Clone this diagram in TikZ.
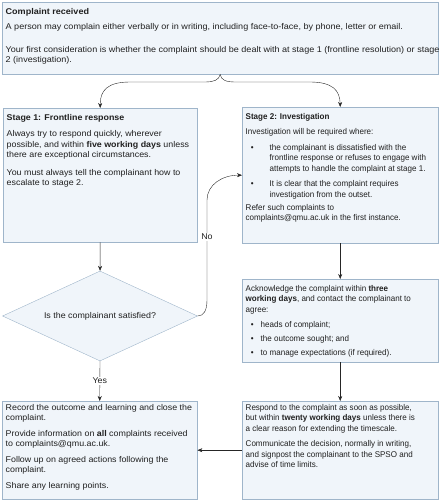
\documentclass[tikz,border=0pt]{standalone}
\usepackage{fontspec}
\setmainfont{Liberation Sans}[FakeStretch=0.96]
\newfontfamily\leftfont{Liberation Sans}[FakeStretch=1.06]
\newfontfamily\introfont{Liberation Sans}[FakeStretch=1.08]
\usetikzlibrary{shapes.geometric,arrows.meta}
\definecolor{qmufill}{HTML}{F0F5FA}
\definecolor{qmuline}{HTML}{9FB5CA}
\definecolor{qmuink}{HTML}{202020}
\newcommand{\qmutext}[1][\rmfamily]{#1\fontsize{8.4}{10.5}\selectfont\raggedright\setlength{\parskip}{5bp}}
\newcommand{\lefttext}{\qmutext[\leftfont]}
% lines break only where \\ says so
\newcommand{\widetext}[2][\rmfamily]{\leavevmode\rlap{\begin{minipage}[t]{460bp}\qmutext[#1]#2\end{minipage}}}
\newenvironment{qlist}[3]{\begin{list}{\textbullet}{%
  \setlength{\leftmargin}{#1}\setlength{\labelsep}{#2}%
  \setlength{\labelwidth}{4bp}\setlength{\itemindent}{0pt}%
  \setlength{\topsep}{0pt}\setlength{\partopsep}{0pt}%
  \setlength{\itemsep}{0pt}\setlength{\parsep}{#3}}}{\end{list}}

\begin{document}
\begin{tikzpicture}[x=1bp,y=-1bp]%
\tikzstyle{qbox} = [draw=qmuline, fill=qmufill, rectangle, anchor=north west,
    inner xsep=3.5bp, inner ysep=6bp, text=qmuink]
\tikzstyle{decision} = [draw=qmuline, fill=qmufill, diamond, inner sep=0pt,
    shape aspect=2.17, minimum width=195bp, minimum height=90bp,
    text=qmuink, font=\lefttext]
\tikzstyle{flow} = [draw=black!85, -{Stealth[length=5bp,width=4bp]}]
\tikzstyle{lbl} = [fill=white, inner sep=1bp, text=qmuink, font=\lefttext]
\useasboundingbox (0,0) rectangle (443,500);

\node [qbox] (intro) at (2,2) {%
    \begin{minipage}[t][60bp][t]{429bp}\widetext[\introfont]{%
      \textbf{Complaint received}

      A person may complain either verbally or in writing, including face-to-face, by phone, letter or email.

      \vspace{7bp}Your first consideration is whether the complaint should be dealt with at stage 1 (frontline resolution) or stage\\
      2 (investigation).}
    \end{minipage}
};
\node [qbox] (stageone) at (3,108) {%
    \begin{minipage}[t][122bp][t]{187bp}\widetext[\leftfont]{%
      \textbf{Stage 1: Frontline response}

      \vspace{1bp}Always try to respond quickly, wherever\\
      possible, and within \textbf{five working days} unless\\
      there are exceptional circumstances.

      \vspace{2bp}You must always tell the complainant how to\\
      escalate to stage 2.}
    \end{minipage}
};
\node [qbox] (stagetwo) at (242,107) {%
    \begin{minipage}[t][124bp][t]{189bp}\widetext{%
      \textbf{Stage 2: Investigation}

      Investigation will be required where:
      \begin{qlist}{24bp}{16bp}{5bp}
        \item the complainant is dissatisfied with the\\
        frontline response or refuses to engage with\\
        attempts to handle the complaint at stage 1.
        \item It is clear that the complaint requires\\
        investigation from the outset.
      \end{qlist}
      \vspace{-2bp}Refer such complaints to\\
      complaints@qmu.ac.uk in the first instance.}
    \end{minipage}
};
\node [qbox] (ack) at (242,279) {%
    \begin{minipage}[t][71bp][t]{189bp}\widetext{%
      Acknowledge the complaint within \textbf{three}\\
      \textbf{working days}, and contact the complainant to\\
      agree:
      \begin{qlist}{15bp}{7bp}{3.5bp}
        \item heads of complaint;
        \item the outcome sought; and
        \item to manage expectations (if required).
      \end{qlist}}
    \end{minipage}
};
\node [qbox, inner ysep=3bp] (respond) at (242,401) {%
    \begin{minipage}[t][92bp][t]{189bp}\widetext{%
      Respond to the complaint as soon as possible,\\
      but within \textbf{twenty working days} unless there is\\
      a clear reason for extending the timescale.

      Communicate the decision, normally in writing,\\
      and signpost the complainant to the SPSO and\\
      advise of time limits.}
    \end{minipage}
};
\node [qbox, inner ysep=3bp] (record) at (2,401) {%
    \begin{minipage}[t][92bp][t]{188bp}\widetext[\leftfont]{%
      Record the outcome and learning and close the\\
      complaint.

      Provide information on \textbf{all} complaints received\\
      to complaints@qmu.ac.uk.

      Follow up on agreed actions following the\\
      complaint.

      Share any learning points.}
    \end{minipage}
};
\node [decision] (satisfied) at (100,316) {Is the complainant satisfied?};

% split from the first box
\coordinate (brace) at (intro.south);
\draw [flow] (brace) .. controls (219,80) and (214,82) .. (205,82) -- (130,82)
    .. controls (108,82) and (100,90) .. (stageone.north);
\draw [flow] (brace) .. controls (221,80) and (226,82) .. (235,82) -- (310,82)
    .. controls (332,82) and (340,90) .. (stagetwo.north);

\draw [flow] (stageone) -- (satisfied);
\draw [flow] (satisfied.south) -- node[lbl] {Yes} (record.north);
\draw [flow] (satisfied.east) .. controls (204,316) and (207,310) .. (207,300)
    -- node[lbl, pos=0.63] {No} (207,200)
    .. controls (207,185) and (222,175) .. (stagetwo.west);
\draw [flow] (stagetwo) -- (ack);
\draw [flow] (ack) -- (respond);
\draw [flow] (respond) -- (record);
\end{tikzpicture}
\end{document}
